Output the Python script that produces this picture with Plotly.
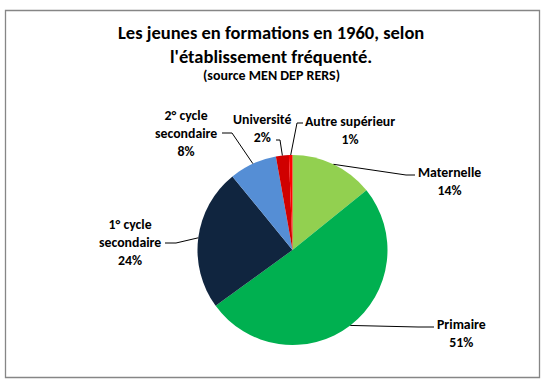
import math
import plotly.graph_objects as go

# ---- data ----
categories = ["Maternelle", "Primaire", "1° cycle secondaire", "2° cycle secondaire",
              "Université", "Autre supérieur"]
values = [14.2, 50.8, 24.1, 8.1, 2.2, 0.6]
colors = ["#92D050", "#00B050", "#10253F", "#558ED5", "#D00000", "#FF0000"]

title_lines = ["Les jeunes en formations en 1960, selon", "l'établissement fréquenté."]
subtitle = "(source MEN DEP RERS)"

W, H = 553, 387
CX, CY, R = 292.5, 250.0, 95.0   # pie centre/radius in pixels

# label placement (pixel coords of label centre) and leader elbow points
label_pos = [(449, 181), (461, 333), (130, 242), (186, 133), (262, 128), (350, 130)]
leader_start = [(415, 175), (434, 327), (165, 243), (222, 133), (276, 140), (303, 123)]
leader_elbow = [(406, 175), (418, 327), (176, 243), (232, 133), (280, 140), (297, 123)]

def px(x):
    return x / W

def py(y):
    return 1 - y / H

fig = go.Figure(go.Pie(
    labels=categories, values=values, sort=False, direction="clockwise", rotation=0,
    marker=dict(colors=colors, line=dict(width=0)),
    textinfo="none", hoverinfo="label+percent", showlegend=False,
    domain=dict(x=[px(CX - R), px(CX + R)], y=[py(CY + R), py(CY - R)]),
))

total = sum(values)
annotations = []
shapes = []
cum = 0.0
FONT = "Carlito, Calibri, Lato, sans-serif"
for i, (cat, v) in enumerate(zip(categories, values)):
    frac = v / total
    mid = (cum + frac / 2) * 2 * math.pi
    cum += frac
    ex, ey = CX + R * math.sin(mid), CY - R * math.cos(mid)
    txt = cat.replace(" secondaire", "<br>secondaire") + "<br>" + f"{round(v)}%"
    lx, ly = label_pos[i]
    annotations.append(dict(x=px(lx), y=py(ly), xref="paper", yref="paper", text=txt,
                            xanchor="center", yanchor="middle",
                            showarrow=False, align="center",
                            font=dict(family=FONT, size=13.8, color="#000000", weight="bold")))
    sx, sy = leader_start[i]
    bx, by = leader_elbow[i]
    shapes.append(dict(type="path", xref="paper", yref="paper",
                       path=f"M {px(sx)} {py(sy)} L {px(bx)} {py(by)} L {px(ex)} {py(ey)}",
                       line=dict(color="#000000", width=1)))

annotations.append(dict(x=px(271), y=py(45), xref="paper", yref="paper",
                        xanchor="center", yanchor="middle",
                        text="<br>".join(title_lines), showarrow=False, align="center",
                        font=dict(family=FONT, size=18.5, color="#000000", weight="bold")))
annotations.append(dict(x=px(271), y=py(75), xref="paper", yref="paper",
                        xanchor="center", yanchor="middle",
                        text=subtitle, showarrow=False, align="center",
                        font=dict(family=FONT, size=14, color="#000000", weight="bold")))

shapes.append(dict(type="rect", xref="paper", yref="paper",
                   x0=px(5.5), x1=px(539.5), y0=py(377.5), y1=py(10.5),
                   line=dict(color="#868686", width=1.3)))

fig.update_layout(width=W, height=H, margin=dict(l=0, r=0, t=0, b=0),
                  paper_bgcolor="white", plot_bgcolor="white",
                  annotations=annotations, shapes=shapes)

fig.write_html("out.html", config={"displayModeBar": False},
               post_script="document.body.style.margin='0';")
